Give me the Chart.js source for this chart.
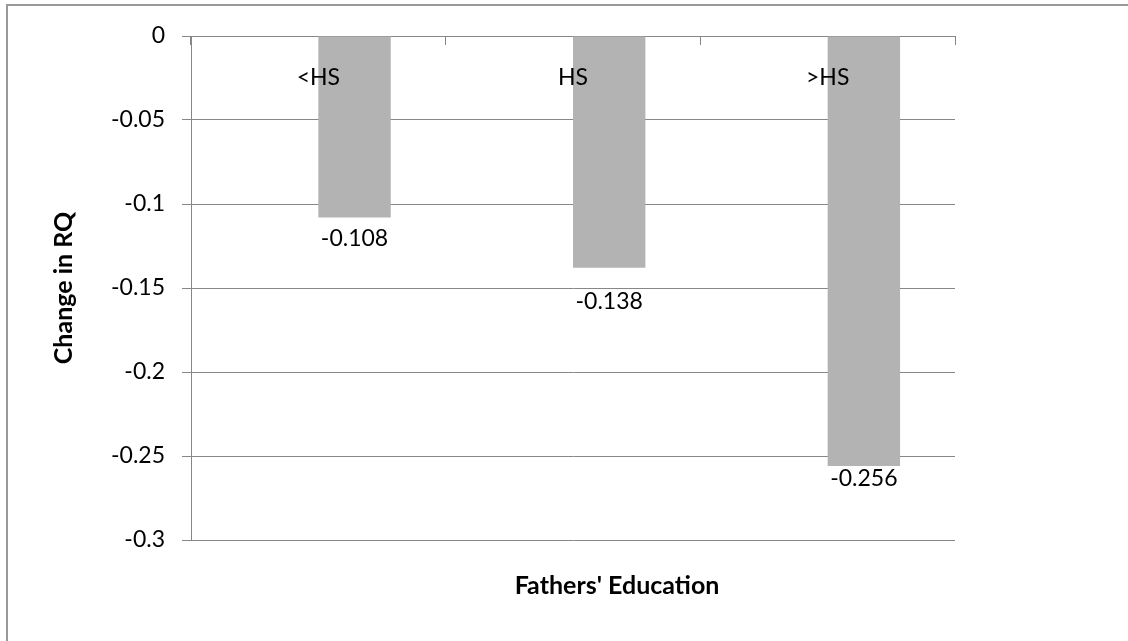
<!DOCTYPE html>
<html>
<head>
<meta charset="utf-8">
<title>Change in RQ by Fathers' Education</title>
<script src="https://cdn.jsdelivr.net/npm/chart.js@4.4.1/dist/chart.umd.min.js"></script>
<style>
  html, body { margin: 0; padding: 0; background: #fff; }
  #frame { width: 1128px; height: 641px; overflow: hidden; position: relative; }
  #rq_chart { position: absolute; left: 0; top: 0; }
</style>
</head>
<body>
<div id="frame">
  <canvas id="rq_chart" width="1234" height="660"></canvas>
</div>
<script>
const educationLevels = ['<HS', 'HS', '>HS'];
const changeInRQ = [-0.108, -0.138, -0.256];
// the sheet had an empty first series, which is why the bars sit right of centre
const emptySeries = [null, null, null];
const yTicks = [0, -0.05, -0.1, -0.15, -0.2, -0.25, -0.3];

const lineGrey = '#878787';
const fontFamily = 'Lato, "Open Sans", sans-serif';

// value labels were dragged by hand in the sheet, so each gets its own drop below the bar end
const labelDrop = [21, 34, 12];

const chartFrame = {
  id: 'chartFrame',
  beforeDraw(chart) {
    const { ctx } = chart;
    ctx.save();
    ctx.fillStyle = '#fff';
    ctx.fillRect(0, 0, chart.width, chart.height);
    // outer chart border; its right and bottom sides fall outside the visible frame
    ctx.strokeStyle = '#999999';
    ctx.lineWidth = 2;
    ctx.beginPath();
    ctx.moveTo(7, chart.height);
    ctx.lineTo(7, 5);
    ctx.lineTo(chart.width, 5);
    ctx.stroke();
    ctx.restore();
  },
  afterDraw(chart) {
    const { ctx, chartArea } = chart;
    ctx.save();
    ctx.fillStyle = '#000';
    ctx.font = `bold 25px ${fontFamily}`;
    ctx.textAlign = 'center';
    ctx.textBaseline = 'middle';
    ctx.fillText("Fathers' Education", chart.width / 2, chartArea.bottom + 46);
    ctx.restore();
  },
};

const valueLabels = {
  id: 'valueLabels',
  afterDatasetsDraw(chart) {
    const { ctx } = chart;
    const meta = chart.getDatasetMeta(1);
    ctx.save();
    ctx.fillStyle = '#000';
    ctx.font = `23px ${fontFamily}`;
    ctx.textAlign = 'center';
    ctx.textBaseline = 'middle';
    meta.data.forEach((bar, i) => {
      ctx.fillText(String(changeInRQ[i]), bar.x, bar.y + labelDrop[i]);
    });
    ctx.restore();
  },
};

const chartContext = document.getElementById('rq_chart').getContext('2d');
const chart = new Chart(chartContext, {
  type: 'bar',
  data: {
    labels: educationLevels,
    datasets: [
      {
        label: '',
        data: emptySeries,
        backgroundColor: '#B3B3B3',
        categoryPercentage: 0.5686,
        barPercentage: 1.0,
      },
      {
        label: 'Change in RQ',
        data: changeInRQ,
        backgroundColor: '#B3B3B3',
        borderWidth: 0,
        categoryPercentage: 0.5686,
        barPercentage: 1.0,
      },
    ],
  },
  options: {
    responsive: false,
    animation: false,
    layout: {
      padding: { left: 40, top: 36, right: 279, bottom: 120 },
    },
    plugins: {
      legend: { display: false },
      tooltip: { enabled: false },
    },
    scales: {
      x: {
        type: 'category',
        position: { y: 0 },
        offset: true,
        grid: {
          offset: true,
          drawOnChartArea: false,
          drawTicks: true,
          tickLength: 8,
          color: lineGrey,
          lineWidth: 1,
        },
        border: { display: true, color: lineGrey, width: 1 },
        ticks: {
          // category names sit on top of the bars
          z: 1,
          color: '#000',
          font: { family: fontFamily, size: 23 },
          padding: 20,
          autoSkip: false,
          maxRotation: 0,
        },
        afterFit: (scale) => { scale.height = 10; },
      },
      y: {
        min: -0.3,
        max: 0,
        afterBuildTicks: (scale) => {
          scale.ticks = yTicks.map((value) => ({ value }));
        },
        grid: {
          color: lineGrey,
          lineWidth: 1,
          drawTicks: true,
          tickLength: 9,
        },
        border: { display: true, color: lineGrey, width: 1 },
        ticks: {
          color: '#000',
          font: { family: fontFamily, size: 23 },
          padding: 17,
          callback: (value) => String(Math.round(value * 100) / 100),
        },
        title: {
          display: true,
          text: 'Change in RQ',
          color: '#000',
          font: { family: fontFamily, size: 25, weight: 'bold' },
          padding: { top: 9, bottom: 0 },
        },
        afterFit: (scale) => { scale.width = 151; },
      },
    },
  },
  plugins: [chartFrame, valueLabels],
});
</script>
</body>
</html>
